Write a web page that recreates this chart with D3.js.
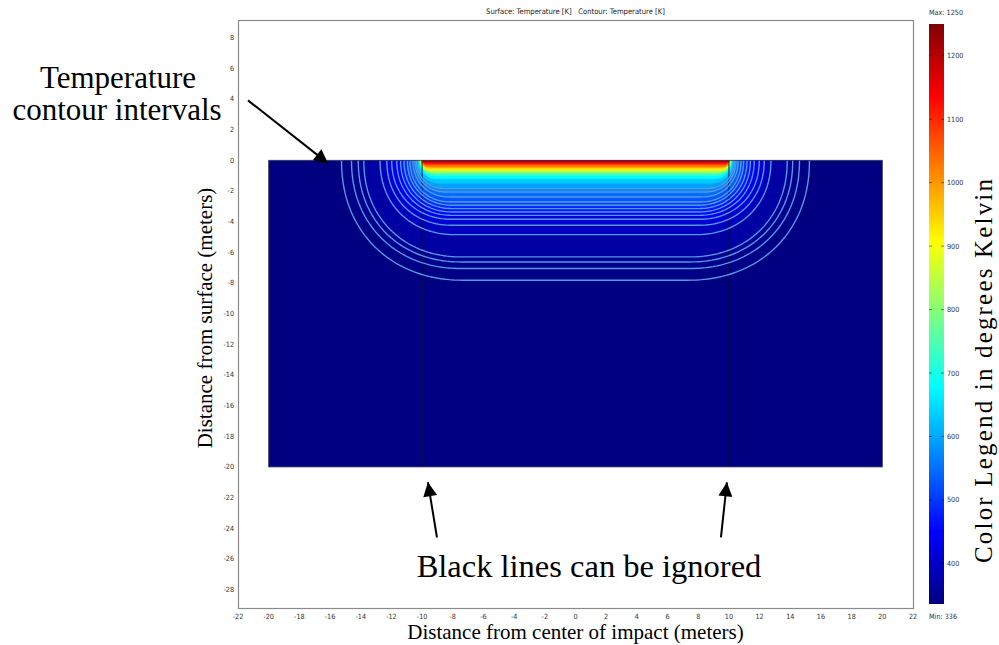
<!DOCTYPE html>
<html>
<head>
<meta charset="utf-8">
<script src="https://cdn.jsdelivr.net/npm/d3@7"></script>
<style>
  html, body { margin: 0; padding: 0; background: #fff; }
  svg { display: block; }
</style>
</head>
<body>
<svg id="chart" width="999" height="645"></svg>
<script>
// ---- data -------------------------------------------------------------
const xTickValues = [-22, -20, -18, -16, -14, -12, -10, -8, -6, -4, -2, 0, 2, 4, 6, 8, 10, 12, 14, 16, 18, 20, 22];
const yTickValues = [-28, -26, -24, -22, -20, -18, -16, -14, -12, -10, -8, -6, -4, -2, 0, 2, 4, 6, 8];
const colorTickValues = [400, 500, 600, 700, 800, 900, 1000, 1100, 1200];

const tempMin = 336;   // K
const tempMax = 1250;  // K

// modelled block (metres) and the internal boundaries at x = ±10 m
const blockX = [-20, 20];
const blockDepth = [0, -20];
const boundaryX = [-10, 10];

// isotherms, outermost (coolest) first
const isoLevels = [340, 345, 350, 355, 380, 400, 420, 440, 460, 480, 500, 520, 540, 560, 580,
                   610, 650, 700, 750, 800, 850, 900, 950, 1000, 1050, 1100, 1150, 1200];
// depth of each isotherm below the centre of impact (m)
const isoDepth = [7.82, 7.06, 6.63, 6.30, 4.85, 4.24, 3.85, 3.59, 3.37, 3.15, 2.93, 2.72, 2.39, 2.07, 1.85,
                  1.50, 1.20, 1.00, 0.88, 0.78, 0.69, 0.60, 0.51, 0.42, 0.31, 0.22, 0.13, 0.06];
// half-width where each isotherm meets the surface (m)
const isoSurfaceHalfWidth = [15.25, 14.60, 14.16, 13.80, 12.74, 12.30, 11.98, 11.65, 11.40, 11.18, 10.96, 10.79, 10.60, 10.46, 10.36,
                             10.28, 10.20, 10.15, 10.12, 10.10, 10.08, 10.06, 10.04, 10.02, 10.00, 9.98, 9.96, 9.94];
// half-width of the flat floor of each isotherm (m)
const isoFloorHalfWidth = [7.3, 7.4, 7.4, 7.4, 7.8, 8.0, 8.0, 8.0, 8.0, 8.0, 8.0, 8.1, 8.2, 8.4, 8.5,
                           8.8, 9.0, 9.15, 9.25, 9.35, 9.4, 9.45, 9.5, 9.55, 9.6, 9.65, 9.7, 9.75];
// isotherms drawn as contour lines (the hotter ones read as colour bands)
const contourLineMax = 580;

// rainbow (jet) colour table: position along the range -> colour
const jetPos = [0, 0.125, 0.375, 0.625, 0.875, 1];
const jetColors = ["#000080", "#0000ff", "#00ffff", "#ffff00", "#ff0000", "#800000"];

// ---- layout -------------------------------------------------------------
const svg = d3.select("#chart");
const frame = { left: 238, right: 913, top: 20, bottom: 608 };

const x = d3.scaleLinear().domain([-22, 22]).range([frame.left, frame.right]);
const y = d3.scaleLinear().domain([-29.2, 9.15]).range([frame.bottom, frame.top]);

const tempToColor = d3.scaleLinear()
  .domain(jetPos.map(p => tempMin + p * (tempMax - tempMin)))
  .range(jetColors)
  .interpolate(d3.interpolateRgb)
  .clamp(true);

const cbar = { left: 929, width: 15 };
const c = d3.scaleLinear().domain([tempMin, tempMax]).range([604, 24]);

const tickFont = "Tahoma, 'DejaVu Sans Condensed', 'Liberation Sans', Arial, sans-serif";
const serif = "'Liberation Serif', 'Times New Roman', serif";

// ---- plot frame ---------------------------------------------------------
svg.append("rect")
  .attr("x", frame.left + 0.5).attr("y", frame.top + 0.5)
  .attr("width", frame.right - frame.left).attr("height", frame.bottom - frame.top)
  .attr("fill", "#fff").attr("stroke", "#8a8a8a").attr("stroke-width", 1.2);

svg.append("text")
  .attr("x", x(0)).attr("y", 14)
  .attr("text-anchor", "middle")
  .attr("font-family", tickFont).attr("font-size", 7.6).attr("fill", "#222")
  .attr("xml:space", "preserve")
  .text("Surface: Temperature [K]   Contour: Temperature [K]");

// tick labels
svg.append("g").selectAll("text").data(xTickValues).join("text")
  .attr("x", d => x(d)).attr("y", 619)
  .attr("text-anchor", "middle")
  .attr("font-family", tickFont).attr("font-size", 7.2).attr("fill", "#333")
  .text(d => d);

svg.append("g").selectAll("text").data(yTickValues).join("text")
  .attr("x", 234).attr("y", d => y(d) + 2.5)
  .attr("text-anchor", "end")
  .attr("font-family", tickFont).attr("font-size", 7.2).attr("fill", "#333")
  .text(d => d);

// ---- temperature field ---------------------------------------------------
const defs = svg.append("defs");
defs.append("clipPath").attr("id", "blockClip")
  .append("rect")
  .attr("x", x(blockX[0])).attr("y", y(blockDepth[0]))
  .attr("width", x(blockX[1]) - x(blockX[0]))
  .attr("height", y(blockDepth[1]) - y(blockDepth[0]));

const block = svg.append("g");
block.append("rect")
  .attr("x", x(blockX[0])).attr("y", y(blockDepth[0]))
  .attr("width", x(blockX[1]) - x(blockX[0]))
  .attr("height", y(blockDepth[1]) - y(blockDepth[0]))
  .attr("fill", tempToColor(tempMin));

// outline of one isotherm: rounded side walls meeting a flat floor
const cornerPower = 2.15;
function isothermPoints(i) {
  const a = isoSurfaceHalfWidth[i], f = isoFloorHalfWidth[i], d = isoDepth[i];
  const pts = [];
  const n = 48;
  for (let k = 0; k <= n; k++) {
    const t = (k / n) * Math.PI / 2;
    pts.push([-f - (a - f) * Math.pow(Math.cos(t), 2 / cornerPower), -d * Math.pow(Math.sin(t), 2 / cornerPower)]);
  }
  for (let k = n; k >= 0; k--) {
    const t = (k / n) * Math.PI / 2;
    pts.push([f + (a - f) * Math.pow(Math.cos(t), 2 / cornerPower), -d * Math.pow(Math.sin(t), 2 / cornerPower)]);
  }
  return pts;
}
const line = d3.line().x(p => x(p[0])).y(p => y(p[1])).curve(d3.curveLinear);

const iso = isoLevels.map((level, i) => ({
  level,
  pts: isothermPoints(i),
  bandTemp: (level + (i + 1 < isoLevels.length ? isoLevels[i + 1] : tempMax)) / 2
}));

const field = block.append("g").attr("clip-path", "url(#blockClip)");
field.selectAll("path.band").data(iso).join("path")
  .attr("class", "band")
  .attr("d", d => line(d.pts) + "Z")
  .attr("fill", d => tempToColor(d.bandTemp))
  .attr("stroke", d => tempToColor(d.bandTemp))
  .attr("stroke-width", 0.6);

// internal boundaries of the model
field.selectAll("line.boundary").data(boundaryX).join("line")
  .attr("class", "boundary")
  .attr("x1", d => x(d)).attr("x2", d => x(d))
  .attr("y1", y(blockDepth[0])).attr("y2", y(blockDepth[1]))
  .attr("stroke", "#0b0b2a").attr("stroke-width", 1).attr("stroke-opacity", 0.85);

field.selectAll("path.contour").data(iso.filter(d => d.level <= contourLineMax)).join("path")
  .attr("class", "contour")
  .attr("d", d => line(d.pts))
  .attr("fill", "none")
  .attr("stroke", "#5696e2")
  .attr("stroke-width", 1.4);

block.append("rect")
  .attr("x", x(blockX[0])).attr("y", y(blockDepth[0]))
  .attr("width", x(blockX[1]) - x(blockX[0]))
  .attr("height", y(blockDepth[1]) - y(blockDepth[0]))
  .attr("fill", "none").attr("stroke", "#3a3a55").attr("stroke-width", 0.8);

// ---- colour legend ----------------------------------------------------------
const grad = defs.append("linearGradient").attr("id", "jetGrad")
  .attr("x1", 0).attr("y1", 1).attr("x2", 0).attr("y2", 0);
grad.selectAll("stop").data(jetPos).join("stop")
  .attr("offset", d => d)
  .attr("stop-color", (d, i) => jetColors[i]);

svg.append("rect")
  .attr("x", cbar.left).attr("y", c(tempMax))
  .attr("width", cbar.width).attr("height", c(tempMin) - c(tempMax))
  .attr("fill", "url(#jetGrad)");

const cticks = svg.append("g").selectAll("g").data(colorTickValues).join("g");
cticks.append("line")
  .attr("x1", cbar.left).attr("x2", cbar.left + 3)
  .attr("y1", d => c(d)).attr("y2", d => c(d))
  .attr("stroke", "#000").attr("stroke-opacity", 0.45);
cticks.append("line")
  .attr("x1", cbar.left + cbar.width - 3).attr("x2", cbar.left + cbar.width)
  .attr("y1", d => c(d)).attr("y2", d => c(d))
  .attr("stroke", "#000").attr("stroke-opacity", 0.45);
cticks.append("text")
  .attr("x", cbar.left + cbar.width + 3).attr("y", d => c(d) + 2.5)
  .attr("font-family", tickFont).attr("font-size", 7.2).attr("fill", "#333")
  .text(d => d);

svg.append("text")
  .attr("x", cbar.left).attr("y", 15)
  .attr("font-family", tickFont).attr("font-size", 7.2).attr("fill", "#333")
  .text("Max: " + tempMax);
svg.append("text")
  .attr("x", cbar.left).attr("y", 619)
  .attr("font-family", tickFont).attr("font-size", 7.2).attr("fill", "#333")
  .text("Min: " + tempMin);

// ---- axis titles ------------------------------------------------------------
svg.append("text")
  .attr("transform", "translate(212,318) rotate(-90)")
  .attr("text-anchor", "middle")
  .attr("font-family", serif).attr("font-size", 21).attr("fill", "#000")
  .text("Distance from surface (meters)");

svg.append("text")
  .attr("x", x(0)).attr("y", 639)
  .attr("text-anchor", "middle")
  .attr("font-family", serif).attr("font-size", 21).attr("fill", "#000")
  .text("Distance from center of impact (meters)");

svg.append("text")
  .attr("transform", "translate(992,371) rotate(-90)")
  .attr("text-anchor", "middle")
  .attr("font-family", serif).attr("font-size", 25).attr("fill", "#000")
  .attr("textLength", 384).attr("lengthAdjust", "spacing")
  .text("Color Legend in degrees Kelvin");

// ---- annotations ----------------------------------------------------------------
defs.append("marker").attr("id", "arrowHead")
  .attr("viewBox", "0 0 10 10").attr("refX", 10).attr("refY", 5)
  .attr("markerWidth", 8).attr("markerHeight", 7).attr("markerUnits", "strokeWidth")
  .attr("orient", "auto")
  .append("path").attr("d", "M0,0 L10,5 L0,10 Z").attr("fill", "#000");

const arrows = [
  { from: [-21.35, 3.91], to: [-16.13, -0.2] },
  { from: [-9.03, -24.6], to: [-9.62, -21.0] },
  { from: [9.48, -24.6], to: [9.87, -21.0] }
];
svg.append("g").selectAll("line").data(arrows).join("line")
  .attr("x1", d => x(d.from[0])).attr("y1", d => y(d.from[1]))
  .attr("x2", d => x(d.to[0])).attr("y2", d => y(d.to[1]))
  .attr("stroke", "#000").attr("stroke-width", 2)
  .attr("marker-end", "url(#arrowHead)");

svg.append("text")
  .attr("x", 118).attr("y", 88)
  .attr("text-anchor", "middle")
  .attr("font-family", serif).attr("font-size", 31).attr("fill", "#000")
  .text("Temperature");
svg.append("text")
  .attr("x", 117).attr("y", 120)
  .attr("text-anchor", "middle")
  .attr("font-family", serif).attr("font-size", 31).attr("fill", "#000")
  .text("contour intervals");

svg.append("text")
  .attr("x", 589).attr("y", 577)
  .attr("text-anchor", "middle")
  .attr("font-family", serif).attr("font-size", 32.5).attr("fill", "#000")
  .text("Black lines can be ignored");
</script>
</body>
</html>
